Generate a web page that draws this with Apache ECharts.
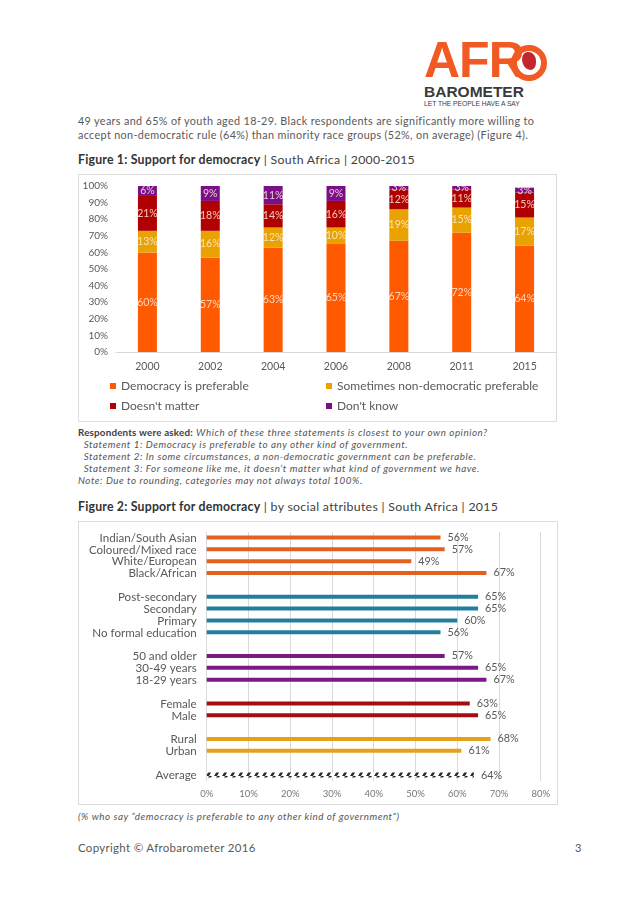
<!DOCTYPE html>
<html><head><meta charset="utf-8">
<script src="https://cdn.jsdelivr.net/npm/echarts/dist/echarts.min.js"></script>
<style>
html,body{margin:0;padding:0;background:#fff;width:638px;height:903px;overflow:hidden;font-family:Lato,"Open Sans",sans-serif;color:#595959;}
.abs{position:absolute;white-space:nowrap;}
.p{font-size:10.8px;line-height:14px;letter-spacing:0.35px;}
.ftitle{font-size:12.3px;color:#404040;letter-spacing:0.2px;}
.ftitle b{color:#333;}
.ftitle span{letter-spacing:0.3px;}
.box{position:absolute;border:1px solid #dcdcdc;box-sizing:border-box;}
.note{font-size:9.8px;line-height:12px;color:#555;letter-spacing:0.55px;}
.note i{font-style:italic;}
</style></head>
<body>
<!-- Logo -->
<div class="abs" style="left:424px;top:30px;font-family:'Liberation Sans',Arial,sans-serif;font-weight:bold;font-size:50px;color:#F15A22;letter-spacing:-1px;line-height:60px;">AFR</div>
<div class="abs" style="left:511px;top:45px;width:24px;height:24px;border:6px solid #F15A22;border-radius:50%;"></div>
<div class="abs" style="left:522px;top:52px;width:14px;height:18px;background:#C2272D;border-radius:40% 50% 40% 60%;"></div>
<div class="abs" style="left:424px;top:84px;font-family:'Liberation Sans',Arial,sans-serif;font-weight:bold;font-size:15.5px;color:#3a3a3a;line-height:16px;">BAROMETER</div>
<div class="abs" style="left:424px;top:100px;font-family:'Liberation Sans',Arial,sans-serif;font-size:6.7px;color:#3a3a3a;line-height:8px;">LET THE PEOPLE HAVE A SAY</div>

<div class="abs p" style="left:78px;top:114px;">49 years and 65% of youth aged 18-29. Black respondents are significantly more willing to<br>accept non-democratic rule (64%) than minority race groups (52%, on average) (Figure 4).</div>

<div class="abs ftitle" style="left:78px;top:152px;"><b>Figure 1: Support for democracy</b><span> | South Africa | 2000-2015</span></div>
<div class="box" style="left:78px;top:174px;width:479px;height:248px;"></div>
<div id="c1" class="abs" style="left:78px;top:174px;width:479px;height:248px;"></div>

<div class="abs note" style="left:78px;top:426px;"><b style="font-weight:bold;letter-spacing:0.2px;color:#404040;">Respondents were asked:</b> <i>Which of these three statements is closest to your own opinion?</i><br>
<i>&nbsp;&nbsp;Statement 1: Democracy is preferable to any other kind of government.</i><br>
<i>&nbsp;&nbsp;Statement 2: In some circumstances, a non-democratic government can be preferable.</i><br>
<i>&nbsp;&nbsp;Statement 3: For someone like me, it doesn’t matter what kind of government we have.</i><br>
<i>Note: Due to rounding, categories may not always total 100%.</i></div>

<div class="abs ftitle" style="left:78px;top:499px;"><b>Figure 2: Support for democracy</b><span> | by social attributes | South Africa | 2015</span></div>
<div class="box" style="left:78px;top:521px;width:480px;height:284px;"></div>
<div id="c2" class="abs" style="left:78px;top:521px;width:480px;height:284px;"></div>

<div class="abs note" style="left:78px;top:810px;"><i>(% who say “democracy is preferable to any other kind of government”)</i></div>

<div class="abs" style="left:78px;top:841px;font-size:11.5px;color:#595959;letter-spacing:0.3px;">Copyright © Afrobarometer 2016</div>
<div class="abs" style="left:575px;top:841px;font-size:11px;color:#595959;">3</div>

<script>
// ---------- Figure 1 data ----------
const years = ['2000','2002','2004','2006','2008','2011','2015'];
const democracyPreferable = [60,57,63,65,67,72,64];
const sometimesNonDemocratic = [13,16,12,10,19,15,17];
const doesntMatter = [21,18,14,16,12,11,15];
const dontKnow = [6,9,11,9,3,3,3];
const seriesNames1 = ['Democracy is preferable','Sometimes non-democratic preferable',"Doesn't matter","Don't know"];

// ---------- Figure 2 data ----------
const raceLabels = ['Indian/South Asian','Coloured/Mixed race','White/European','Black/African'];
const raceValues = [56,57,49,67];
const eduLabels = ['Post-secondary','Secondary','Primary','No formal education'];
const eduValues = [65,65,60,56];
const ageLabels = ['50 and older','30-49 years','18-29 years'];
const ageValues = [57,65,67];
const genderLabels = ['Female','Male'];
const genderValues = [63,65];
const locLabels = ['Rural','Urban'];
const locValues = [68,61];
const avgLabels = ['Average'];
const avgValues = [64];

const FONT = 'Lato, "Open Sans", sans-serif';
const GRAY = '#595959';

// ---------- Chart 1 ----------
const colors1 = ['#FF5A00','#E8A202','#B00000','#7A0F87'];
const vals1 = [democracyPreferable, sometimesNonDemocratic, doesntMatter, dontKnow];
const c1 = echarts.init(document.getElementById('c1'), null, {renderer:'canvas'});
const legendPos = [[32,206],[248,206],[32,226],[248,226]];
c1.setOption({
  animation:false,
  textStyle:{fontFamily:FONT},
  grid:{left:38,right:1,top:12,bottom:70},
  legend: seriesNames1.map((n,i)=>({
    data:[n], left:legendPos[i][0], top:legendPos[i][1], padding:0,
    icon:'rect', itemWidth:6, itemHeight:6,
    textStyle:{fontSize:12, color:GRAY, fontFamily:FONT}
  })),
  xAxis:{type:'category', data:years,
    axisTick:{show:false},
    axisLine:{lineStyle:{color:'#d9d9d9'}},
    axisLabel:{color:GRAY, fontSize:10.5, margin:9, fontFamily:FONT}},
  yAxis:{type:'value', min:0, max:100, interval:10,
    splitLine:{show:false}, axisLine:{show:false}, axisTick:{show:false},
    axisLabel:{formatter:'{value}%', color:GRAY, fontSize:10, margin:8, fontFamily:FONT}},
  series: seriesNames1.map((n,i)=>({
    name:n, type:'bar', stack:'total', barWidth:19, data:vals1[i],
    itemStyle:{color:colors1[i]},
    label:{show:true, position:'inside', formatter:'{c}%', color:'rgba(255,236,220,0.85)', fontSize:10.5, fontFamily:FONT}
  }))
});

// ---------- Chart 2 ----------
const groups = [
  {labels:raceLabels, values:raceValues, color:'#E4601F'},
  {labels:eduLabels, values:eduValues, color:'#227E9F'},
  {labels:ageLabels, values:ageValues, color:'#7B1A86'},
  {labels:genderLabels, values:genderValues, color:'#A50E10'},
  {labels:locLabels, values:locValues, color:'#E5A11C'},
  {labels:avgLabels, values:avgValues, color:null}
];
const cats = [];
groups.forEach((g,gi)=>{ if(gi>0) cats.push(' '.repeat(gi)); g.labels.forEach(l=>cats.push(l)); });

// hatch pattern for Average
const pc = document.createElement('canvas');
pc.width = 8; pc.height = 5;
const pctx = pc.getContext('2d');
pctx.fillStyle = '#fff'; pctx.fillRect(0,0,8,5);
pctx.fillStyle = '#2e2e2e';
pctx.beginPath(); pctx.moveTo(0,5); pctx.lineTo(3,5); pctx.lineTo(6,0); pctx.lineTo(3,0); pctx.closePath(); pctx.fill();

const series2 = groups.map((g,gi)=>{
  const data = cats.map(c=>{ const k = g.labels.indexOf(c); return k>=0 ? g.values[k] : '-'; });
  const isAvg = g.color === null;
  return {
    type:'bar', barWidth: isAvg?5:4, barGap:'-100%', data,
    itemStyle:{color: isAvg ? {image:pc, repeat:'repeat'} : g.color},
    label:{show:true, position:'right', distance:7, formatter:'{c}%', color:GRAY, fontSize:10.8, fontFamily:FONT}
  };
});

const c2 = echarts.init(document.getElementById('c2'), null, {renderer:'canvas'});
c2.setOption({
  animation:false,
  textStyle:{fontFamily:FONT},
  grid:{left:128.7, right:17.3, top:11, bottom:24},
  xAxis:{type:'value', min:0, max:80, interval:10,
    axisLine:{show:false}, axisTick:{show:false},
    splitLine:{lineStyle:{color:'#d9d9d9'}},
    axisLabel:{formatter:'{value}%', color:'#777', fontSize:9.5, margin:8, fontFamily:FONT}},
  yAxis:{type:'category', inverse:true, data:cats,
    axisLine:{show:false}, axisTick:{show:false},
    axisLabel:{interval:0, color:GRAY, fontSize:11.6, margin:10, fontFamily:FONT}},
  series: series2
});
</script>
</body></html>
